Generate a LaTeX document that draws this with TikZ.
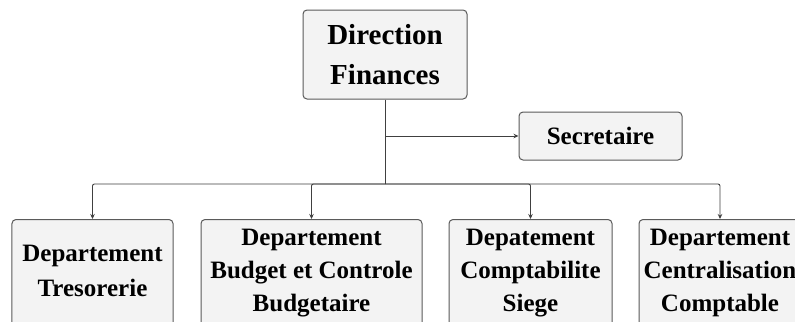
\documentclass[tikz,border=0pt]{standalone}
\usepackage{fontspec}
\setmainfont{Liberation Serif}
\usetikzlibrary{arrows.meta}
\definecolor{boxfill}{HTML}{F3F3F3}
\definecolor{boxline}{HTML}{5A5A5A}
\definecolor{wire}{HTML}{404040}
% department label: stacked lines with extra depth so the text sits a little high
\newcommand{\deptlabel}[1]{\raisebox{0pt}[\height][\dimexpr\depth+7bp\relax]{\begin{tabular}{@{}c@{}}#1\end{tabular}}}
\begin{document}
\begin{tikzpicture}[x=1bp,y=-1bp,
  unitbox/.style={draw=boxline, fill=boxfill, line width=1bp, rounded corners=4bp,
    align=center, inner sep=0pt, font=\bfseries\fontsize{25bp}{33bp}\selectfont},
  deptbox/.style={unitbox, minimum height=112bp, anchor=north},
  link/.style={draw=wire, line width=0.9bp, -{Stealth[length=5bp,width=4.5bp]}}]
  \useasboundingbox (0,0) rectangle (795,321);
  \fill[white] (0,0) rectangle (795,321);

  % head of the directorate
  \node[unitbox, minimum width=164bp, minimum height=89bp,
        font=\bfseries\fontsize{29bp}{40bp}\selectfont] (dir) at (385,54.5)
        {Direction\\Finances};
  % secretariat
  \node[unitbox, minimum width=163bp, minimum height=48bp] (sec) at (600.5,136) {Secretaire};

  % departments (lower edges run past the page)
  \node[deptbox, minimum width=161bp] (tre) at (92.5,219)
        {\deptlabel{Departement\\[2bp]Tresorerie}};
  \node[deptbox, minimum width=221bp] (bud) at (311.5,219)
        {\deptlabel{Departement\\Budget et Controle\\Budgetaire}};
  \node[deptbox, minimum width=163bp] (cpt) at (530.5,219)
        {\deptlabel{Depatement\\Comptabilite\\Siege}};
  \node[deptbox, minimum width=162bp] (cen) at (720,219)
        {\deptlabel{Departement\\Centralisation\\Comptable}};

  % connectors
  \draw[link] (dir.south |- sec.west) -- (sec.west);
  \coordinate (bus) at (385,184);
  \draw[draw=wire, line width=0.9bp] (dir.south) -- (bus);
  \foreach \d in {tre,bud,cpt,cen}
    \draw[link, rounded corners=2bp] (bus) -| (\d.north);
\end{tikzpicture}
\end{document}
